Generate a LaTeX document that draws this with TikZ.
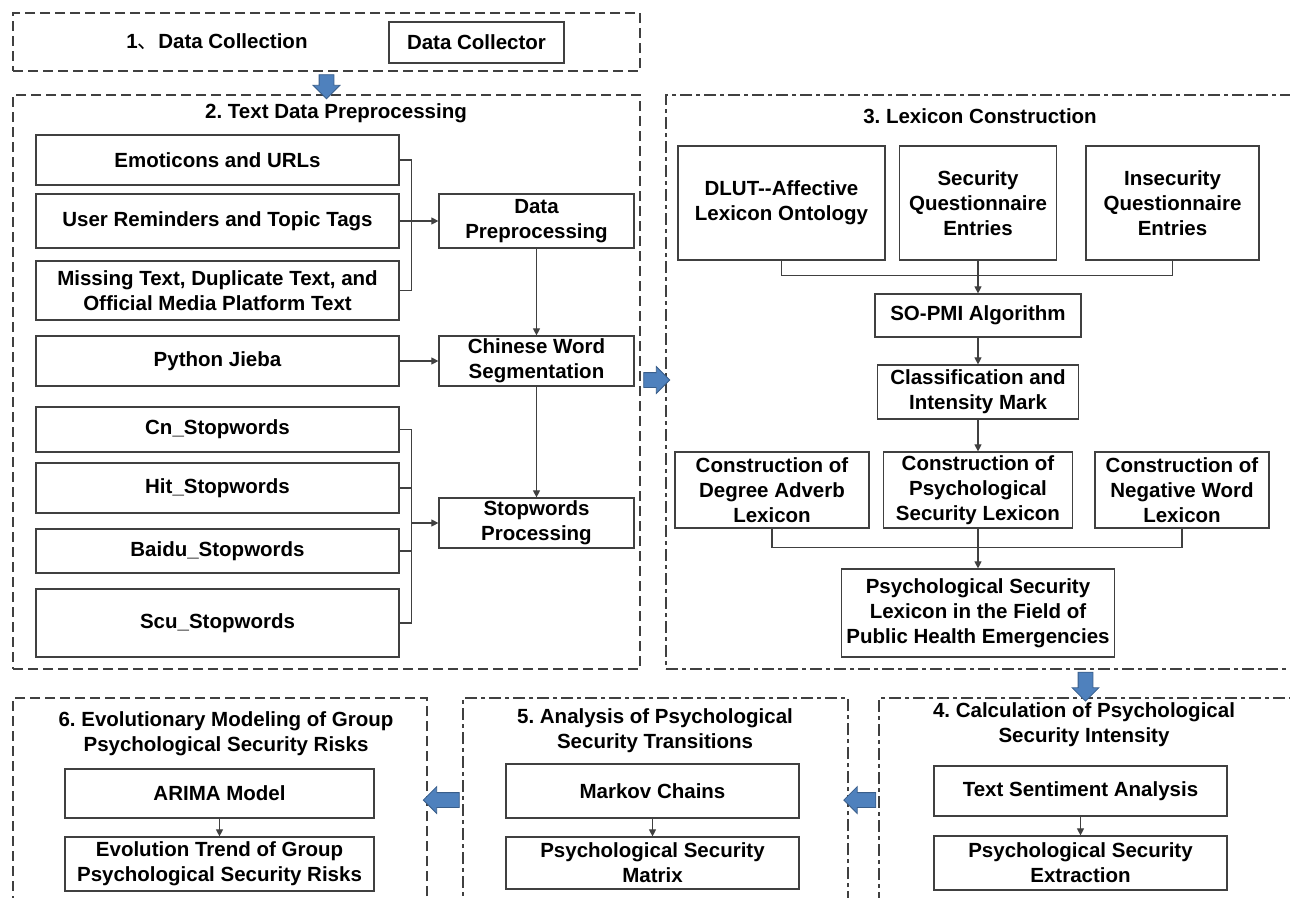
\documentclass[tikz,border=0pt]{standalone}
\usepackage{fontspec}
\setmainfont{Liberation Sans}
\newfontfamily\cjk{Noto Sans CJK SC}
\usetikzlibrary{arrows.meta,shapes.arrows,calc}
\definecolor{edge}{HTML}{404040}
\definecolor{blkfill}{HTML}{4F81BD}
\definecolor{blkdraw}{HTML}{385D8A}

\begin{document}
\begin{tikzpicture}[
  x=1pt, y=-1pt,
  font=\fontsize{20.5}{25}\selectfont\bfseries\frenchspacing, >={Triangle[length=7pt,width=7pt]},
  region/.style={draw=edge, line width=1.1pt, dash pattern=on 10pt off 5pt, inner sep=0pt},
  regalt/.style={region, dash pattern=on 12pt off 4pt on 4pt off 4pt},
  box/.style={draw=edge, line width=1.2pt, fill=white, align=center, inner sep=2pt},
  lcol/.style={box, minimum width=363pt},
  rcol/.style={box, minimum width=195pt},
  ttl/.style={align=center, inner sep=0pt},
  link/.style={draw=edge, line width=1.1pt},
  arr/.style={link, ->},
  blk/.style={single arrow, draw=blkdraw, fill=blkfill, line width=0.8pt, minimum width=26pt,
    single arrow head extend=6pt, inner sep=7pt},
]
\useasboundingbox (0,0) rectangle (1290,897);

% dashed stage regions
\node[region, minimum width=627pt, minimum height=58pt] (r1) at (326.5,42) {};
\node[region, minimum width=627pt, minimum height=574pt] (r2) at (326.5,382) {};
\node[regalt, minimum width=626pt, minimum height=574pt] (r3) at (979,382) {};
\node[regalt, minimum width=413pt, minimum height=204pt] (r4) at (1085.5,800) {};
\node[regalt, minimum width=385pt, minimum height=204pt] (r5) at (655.5,800) {};
\node[region, minimum width=414pt, minimum height=204pt] (r6) at (220,800) {};

% 1. data collection
\node[ttl] (t1) at (217,42) {1{\cjk\mdseries 、}Data Collection};
\node[box, minimum width=175pt, minimum height=41pt] (coll) at (476.5,42.5) {Data Collector};

% 2. text data preprocessing
\node[ttl] (t2) at (336,113) {2. Text Data Preprocessing};
\node[lcol, minimum height=50pt] (emo) at (217.5,160) {Emoticons and URLs};
\node[lcol, minimum height=54pt] (user) at (217.5,221) {User Reminders and Topic Tags};
\node[lcol, minimum height=59pt] (miss) at (217.5,290.5) {Missing Text, Duplicate Text, and\\Official Media Platform Text};
\node[lcol, minimum height=50pt] (jieba) at (217.5,361) {Python Jieba};
\node[lcol, minimum height=45pt] (cn) at (217.5,429.5) {Cn\_Stopwords};
\node[lcol, minimum height=50pt] (hit) at (217.5,488) {Hit\_Stopwords};
\node[lcol, minimum height=44pt] (baidu) at (217.5,551) {Baidu\_Stopwords};
\node[lcol, minimum height=68pt] (scu) at (217.5,623) {Scu\_Stopwords};
\node[rcol, minimum height=54pt] (dpre) at (536.5,221) {Data\\Preprocessing};
\node[rcol, minimum height=50pt] (cws) at (536.5,361) {Chinese Word\\Segmentation};
\node[rcol, minimum height=50pt] (sp) at (536.5,523) {Stopwords\\Processing};

\draw[link] (emo.east) -- ++(12,0) coordinate (b1) |- (miss.east);
\draw[arr] (user.east) -- (dpre.west);
\draw[arr] (jieba) -- (cws);
\draw[arr] (dpre) -- (cws);
\draw[arr] (cws) -- (sp);
\draw[link] (cn.east) -- ++(12,0) coordinate (b2) |- (scu.east);
\draw[link] (hit.east) -- (hit.east -| b2);
\draw[link] (baidu.east) -- (baidu.east -| b2);
\draw[arr] (b2 |- sp.west) -- (sp.west);

% 3. lexicon construction
\node[ttl] (t3) at (980,116) {3. Lexicon Construction};
\node[box, minimum width=207pt, minimum height=114pt] (dlut) at (781.5,203) {DLUT-{}-Affective\\Lexicon Ontology};
\node[box, minimum width=157pt, minimum height=114pt] (secq) at (978,203) {Security\\Questionnaire\\Entries};
\node[box, minimum width=173pt, minimum height=114pt] (insec) at (1172.5,203) {Insecurity\\Questionnaire\\Entries};
\node[box, minimum width=206pt, minimum height=43pt] (sopmi) at (978,315.5) {SO-PMI Algorithm};
\node[box, minimum width=201pt, minimum height=54pt] (cls) at (978,392) {Classification and\\Intensity Mark};
\node[box, minimum width=194pt, minimum height=76pt] (cdeg) at (772,490) {Construction of\\Degree Adverb\\Lexicon};
\node[box, minimum width=189pt, minimum height=76pt] (cpsy) at (978,490) {Construction of\\Psychological\\Security Lexicon};
\node[box, minimum width=174pt, minimum height=76pt] (cneg) at (1182,490) {Construction of\\Negative Word\\Lexicon};
\node[box, minimum width=273pt, minimum height=88pt] (final) at (978,613) {Psychological Security\\Lexicon in the Field of\\Public Health Emergencies};

\draw[link] (dlut.south) -- ++(0,15) -| (insec.south);
\draw[arr] (secq) -- (sopmi);
\draw[arr] (sopmi) -- (cls);
\draw[arr] (cls) -- (cpsy);
\draw[link] (cdeg.south) -- ++(0,19) -| (cneg.south);
\draw[arr] (cpsy) -- (final);

% 4. intensity
\node[ttl] (t4) at (1084,725) {4. Calculation of Psychological\\Security Intensity};
\node[box, minimum width=293pt, minimum height=50pt] (tsa) at (1080.5,791) {Text Sentiment Analysis};
\node[box, minimum width=293pt, minimum height=54pt] (pse) at (1080.5,863) {Psychological Security\\Extraction};
\draw[arr] (tsa) -- (pse);

% 5. transitions
\node[ttl] (t5) at (655,731) {5. Analysis of Psychological\\Security Transitions};
\node[box, minimum width=293pt, minimum height=54pt] (mkv) at (652.5,791) {Markov Chains};
\node[box, minimum width=293pt, minimum height=52pt] (psm) at (652.5,863) {Psychological Security\\Matrix};
\draw[arr] (mkv) -- (psm);

% 6. evolution
\node[ttl] (t6) at (226,733.5) {6. Evolutionary Modeling of Group\\Psychological Security Risks};
\node[box, minimum width=309pt, minimum height=49pt] (arima) at (219.5,793.5) {ARIMA Model};
\node[box, minimum width=309pt, minimum height=54pt] (evo) at (219.5,864) {Evolution Trend of Group\\Psychological Security Risks};
\draw[arr] (arima) -- (evo);

% block arrows between stages
\node[blk, minimum height=24pt, shape border rotate=270] (a12) at ($(r1.south)!.5!(r2.north)$) {};
\node[blk, minimum height=26pt] (a23) at ($(r2.east)!.5!(r3.west)+(0,-2)$) {};
\node[blk, minimum height=29pt, shape border rotate=270] (a34) at ($(r4.north)+(0,-14.5)$) {};
\node[blk, minimum height=32pt, shape border rotate=180] (a45) at ($(r5.east)!.5!(r4.west)$) {};
\node[blk, minimum height=36pt, shape border rotate=180] (a56) at ($(r6.east)!.5!(r5.west)$) {};
\end{tikzpicture}
\end{document}
